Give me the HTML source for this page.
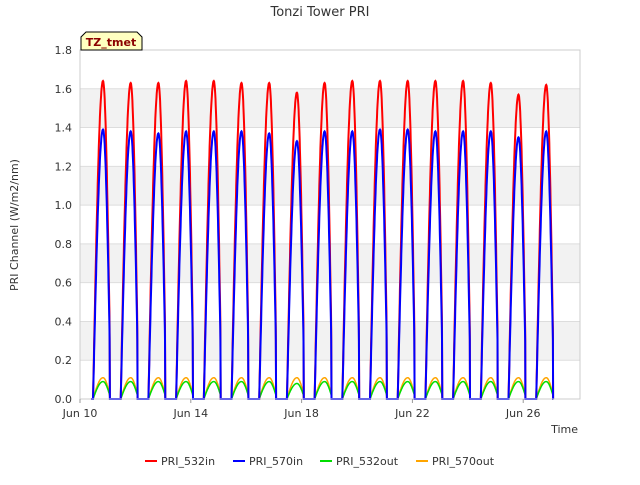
<!DOCTYPE html>
<html><head><meta charset="utf-8"><style>
body{margin:0;background:#fff;font-family:"Liberation Sans","DejaVu Sans",sans-serif;}
svg text{font-family:"DejaVu Sans","Liberation Sans",sans-serif;}
</style></head><body>
<svg id="c" width="640" height="480" viewBox="0 0 640 480">
<rect width="640" height="480" fill="#fff"/>
<text x="320" y="16" text-anchor="middle" font-size="13" fill="#333">Tonzi Tower PRI</text>
<g id="grid"></g>
<g id="series"></g>
<g id="axes"></g>
<text x="18" y="225" transform="rotate(-90 18 225)" text-anchor="middle" font-size="11" fill="#333">PRI Channel (W/m2/nm)</text>
<text x="578" y="433" text-anchor="end" font-size="11" fill="#333">Time</text>
<g>
<path d="M81,50 L81,37 L86,32 L137,32 L142,37 L142,50 Z" fill="#ffffc0" stroke="#000" stroke-width="1"/>
<text x="111" y="46" text-anchor="middle" font-size="11" font-weight="bold" fill="#8b0000">TZ_tmet</text>
</g>
<g id="legend"></g>
</svg>
<script>
const tickVals=[0,0.2,0.4,0.6,0.8,1.0,1.2,1.4,1.6,1.8];
const xTickDays=[0,4,8,12,16];
const xTickLabels=["Jun 10","Jun 14","Jun 18","Jun 22","Jun 26"];
const seriesNames=["PRI_532in","PRI_570in","PRI_532out","PRI_570out"];
const seriesColors=["#ff0000","#0000ff","#00dd00","#ffa500"];
const peak532in=[1.64,1.63,1.63,1.64,1.64,1.63,1.63,1.58,1.63,1.64,1.64,1.64,1.64,1.64,1.63,1.57,1.62];
const peak570in=[1.39,1.38,1.37,1.38,1.38,1.38,1.37,1.33,1.38,1.38,1.39,1.39,1.38,1.38,1.38,1.35,1.38];
const peak532out=[0.09,0.09,0.09,0.09,0.09,0.09,0.09,0.08,0.09,0.09,0.09,0.09,0.09,0.09,0.09,0.09,0.09];
const peak570out=[0.11,0.11,0.11,0.11,0.11,0.11,0.11,0.11,0.11,0.11,0.11,0.11,0.11,0.11,0.11,0.11,0.11];
const NS="http://www.w3.org/2000/svg";
const X0=80,X1=580,Y0=399,Y1=50,DAYS=18.05,YMAX=1.8;
const xs=d=>X0+d/DAYS*(X1-X0);
const ys=v=>Y0-v/YMAX*(Y0-Y1);
function mk(tag,attrs,parent){const e=document.createElementNS(NS,tag);for(const k in attrs)e.setAttribute(k,attrs[k]);parent.appendChild(e);return e;}
const grid=document.getElementById('grid');
for(let i=0;i<tickVals.length-1;i++){
  if(i%2===1){const r=mk('rect',{x:X0,y:ys(tickVals[i+1]),width:X1-X0,height:ys(tickVals[i])-ys(tickVals[i+1]),fill:'#f2f2f2'},grid);
  
  }
}
tickVals.forEach(v=>{const l=mk('line',{x1:X0,x2:X1,y1:ys(v),y2:ys(v),stroke:'#dddddd'},grid);

});
const axes=document.getElementById('axes');
mk('rect',{x:X0,y:Y1,width:X1-X0,height:Y0-Y1,fill:'none',stroke:'#cccccc'},axes);
tickVals.forEach(v=>{const t=mk('text',{x:X0-8,y:ys(v)+4,'text-anchor':'end','font-size':11,fill:'#333'},axes);t.textContent=v.toFixed(1);

});
xTickDays.forEach((d,i)=>{mk('line',{x1:xs(d),x2:xs(d),y1:Y0,y2:Y0+4,stroke:'#999'},axes);
const t=mk('text',{x:xs(d),y:Y0+18,'text-anchor':'middle','font-size':11,fill:'#333'},axes);t.textContent=xTickLabels[i];

});
function shape(t){ // t: fraction of day
  if(t<0.47||t>1.08)return 0;
  if(t<0.83)return Math.sin(Math.PI/2*(t-0.47)/0.36);
  return Math.cos(Math.PI/2*(t-0.83)/0.28);
}
const peaks=[peak532in,peak570in,peak532out,peak570out];
const sg=document.getElementById('series');
[3,2,0,1].forEach(si=>{
  let pts=[];
  peaks[si].forEach((p,day)=>{
    pts.push([day+0.4,0]);
    for(let t=0.47;t<=1.081;t+=0.01)pts.push([day+t,p*shape(t)]);
    pts.push([day+1.085,0]);
  });
  const d='M'+pts.map(q=>xs(q[0]).toFixed(1)+','+ys(q[1]).toFixed(1)).join('L');
  const path=mk('path',{d:d,fill:'none',stroke:seriesColors[si],'stroke-width':si<2?2:1.5},sg);
  
  
});
const lg=document.getElementById('legend');
const lx=[145,233,320,416];
seriesNames.forEach((n,i)=>{
  const g=mk('g',{},lg);
  
  
  mk('line',{x1:lx[i],x2:lx[i]+12,y1:461,y2:461,stroke:seriesColors[i],'stroke-width':2},g);
  const t=mk('text',{x:lx[i]+16,y:465,'font-size':11,fill:'#333'},g);t.textContent=n;
});
</script>
</body></html>
